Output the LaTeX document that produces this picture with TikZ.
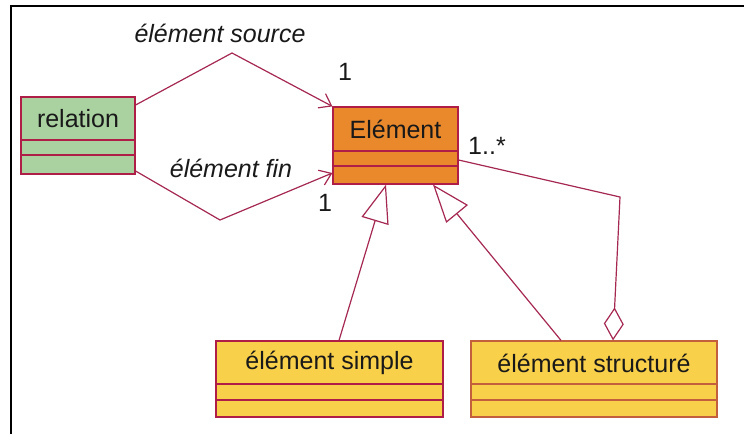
\documentclass[tikz,border=0pt]{standalone}
\usepackage{fontspec}
\setmainfont{Liberation Sans}
\usetikzlibrary{arrows.meta}
\definecolor{lnred}{RGB}{165,40,80}
\definecolor{bxred}{RGB}{175,30,70}
\definecolor{bxbrown}{RGB}{195,95,60}
\definecolor{relgreen}{RGB}{170,210,160}
\definecolor{elorange}{RGB}{233,137,44}
\definecolor{ylw}{RGB}{249,208,74}
\definecolor{txt}{RGB}{25,25,25}
\tikzset{
  classbox/.style={draw=bxred, line width=1.2pt, inner sep=0pt},
  ttl/.style={font=\fontsize{25}{30}\selectfont, text=txt, inner sep=0pt},
  lbl/.style={font=\fontsize{25}{30}\selectfont, text=txt, inner sep=0pt},
  rolelbl/.style={font=\fontsize{25}{30}\selectfont\itshape, text=txt, inner sep=0pt},
  divider/.style={draw=bxred, line width=1.2pt},
  assoc/.style={draw=lnred, line width=1.2pt, -{Straight Barb[length=11pt,width=16pt,line width=1.2pt]}},
  genl/.style={draw=lnred, line width=1.2pt, -{Triangle[open, length=38pt, width=28pt, line width=1.2pt, fill=white]}},
  aggr/.style={draw=lnred, line width=1.2pt, {Diamond[open, length=33pt, width=20pt, line width=1.2pt, fill=white]}-},
}
\begin{document}
\begin{tikzpicture}[x=1pt,y=-1pt]
\useasboundingbox (0,0) rectangle (744,434);
% frame
\draw[line width=2.2pt] (11,434) -- (11,6) -- (744,6);
% relation
\node[classbox, fill=relgreen, minimum width=114pt, minimum height=77pt] (rel) at (78,135.5) {};
\node[ttl] (reltitle) at (78,119) {relation};
\draw[divider] (rel.west |- 0,140) -- (rel.east |- 0,140);
\draw[divider] (rel.west |- 0,155) -- (rel.east |- 0,155);
% Element
\node[classbox, fill=elorange, minimum width=125pt, minimum height=77pt] (elem) at (395.5,145.5) {};
\node[ttl] (elemtitle) at (395.5,129.5) {Elément};
\draw[divider] (elem.west |- 0,151) -- (elem.east |- 0,151);
\draw[divider] (elem.west |- 0,166) -- (elem.east |- 0,166);
% element simple
\node[classbox, fill=ylw, minimum width=227pt, minimum height=76pt] (simple) at (329.5,379) {};
\node[ttl] (simpletitle) at (329.5,363) {élément simple};
\draw[divider] (simple.west |- 0,384) -- (simple.east |- 0,384);
\draw[divider] (simple.west |- 0,400) -- (simple.east |- 0,400);
% element structure
\node[classbox, draw=bxbrown, fill=ylw, minimum width=246pt, minimum height=76pt] (struct) at (594,379) {};
\node[ttl] (structtitle) at (594,363) {élément structuré};
\draw[divider, draw=bxbrown] (struct.west |- 0,384) -- (struct.east |- 0,384);
\draw[divider, draw=bxbrown] (struct.west |- 0,400) -- (struct.east |- 0,400);
% bend points
\coordinate (srcbend) at (232,53);
\coordinate (finbend) at (220,220);
\coordinate (aggbend) at (620,197);
% associations
\draw[assoc] (rel.east |- 0,105) -- (srcbend) -- (elem.north west);
\draw[assoc] (rel.east |- 0,171) -- (finbend) -- (elem.west |- 0,173);
% generalizations
\draw[genl] (simple.north -| 339,0) -- (elem.south -| 386,0);
\draw[genl] (struct.north -| 561,0) -- (elem.south -| 433,0);
% aggregation
\draw[aggr] (struct.north -| 613,0) -- (aggbend) -- (elem.east |- 0,160);
% labels
\node[rolelbl] (srclbl) at (220,33) {élément source};
\node[rolelbl] (finlbl) at (231,168) {élément fin};
\node[lbl] (m1) at (345,72) {1};
\node[lbl] (m2) at (325,203) {1};
\node[lbl] (m3) at (487,146) {1..*};
\end{tikzpicture}
\end{document}
